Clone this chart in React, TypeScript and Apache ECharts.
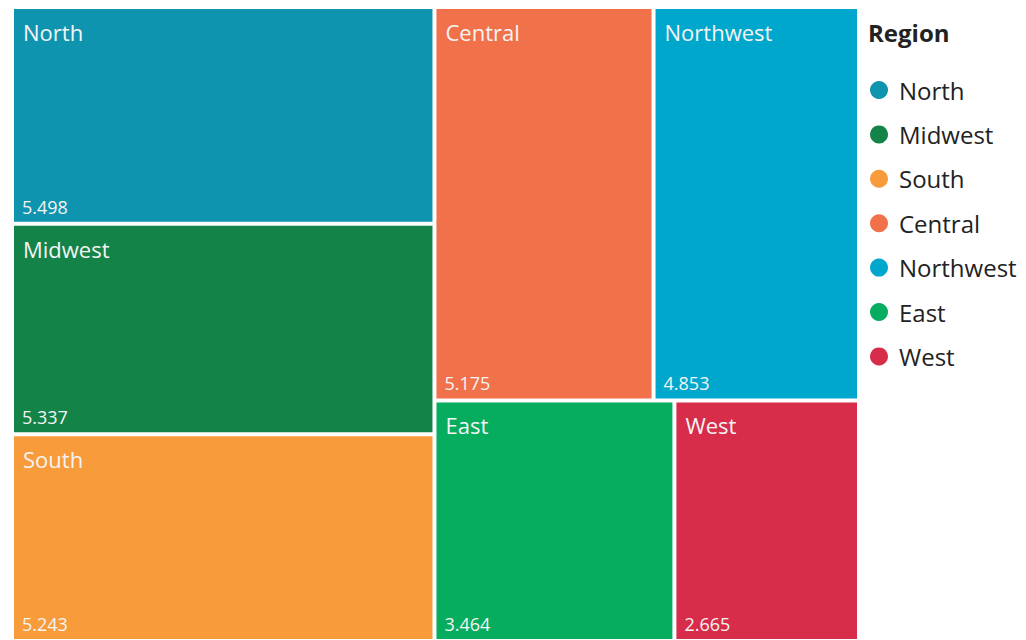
import React, { useEffect, useRef } from "react";
import * as echarts from "echarts";

const regions = ["North", "Midwest", "South", "Central", "Northwest", "East", "West"];
const values = [5.498, 5.337, 5.243, 5.175, 4.853, 3.464, 2.665];
const colors = ["#0F94AF", "#138347", "#F79B3B", "#F1714A", "#00A7CC", "#06AD5F", "#D72D4B"];
const legendTitle = "Region";

const FONT = "'Open Sans', 'Noto Sans', sans-serif";

export default function App() {
  const ref = useRef<HTMLDivElement>(null);
  useEffect(() => {
    if (!ref.current) return;
    const chart = echarts.init(ref.current, undefined, { renderer: "svg" });
    const box = { left: 13, top: 8, width: 845, height: 632 };
    const nameData = regions.map((r, i) => ({
      name: r,
      value: values[i],
      itemStyle: { color: colors[i] },
    }));
    const valueData = regions.map((r, i) => ({ name: r, value: values[i] }));
    chart.setOption({
      animation: false,
      title: {
        text: legendTitle,
        left: 863,
        top: 15,
        textStyle: { fontFamily: FONT, fontSize: 24, fontWeight: "bold", color: "#222" },
      },
      legend: {
        orient: "vertical",
        left: 865,
        top: 73,
        icon: "circle",
        itemWidth: 30,
        itemHeight: 18,
        itemGap: 20.4,
        data: regions,
        textStyle: { fontFamily: FONT, fontSize: 24, color: "#222" },
        selectedMode: false,
      },
      series: [
        {
          type: "treemap",
          ...box,
          roam: false,
          nodeClick: false,
          breadcrumb: { show: false },
          sort: "desc",
          levels: [{ itemStyle: { borderWidth: 0, gapWidth: 2 } }],
          itemStyle: { borderWidth: 1, borderColor: "rgba(255,255,255,0.45)" },
          label: {
            show: true,
            position: "insideTopLeft",
            distance: 4,
            offset: [0, 3],
            formatter: "{b}",
            color: "#F4F4F4",
            fontFamily: FONT,
            fontSize: 22,
          },
          emphasis: { disabled: true },
          data: nameData,
        },
        {
          type: "treemap",
          ...box,
          roam: false,
          nodeClick: false,
          silent: true,
          breadcrumb: { show: false },
          sort: "desc",
          levels: [{ itemStyle: { borderWidth: 0, gapWidth: 2, color: "rgba(0,0,0,0)" } }],
          itemStyle: { color: "rgba(0,0,0,0)", borderWidth: 0, borderColor: "rgba(0,0,0,0)" },
          label: {
            show: true,
            position: "insideBottomLeft",
            distance: 4,
            offset: [0, 2],
            formatter: (p: any) => p.value.toFixed(3),
            color: "#F4F4F4",
            fontFamily: FONT,
            fontSize: 18,
          },
          emphasis: { disabled: true },
          data: valueData,
        },
        {
          type: "pie",
          radius: [0, 0],
          center: [-100, -100],
          silent: true,
          label: { show: false },
          labelLine: { show: false },
          data: regions.map((r, i) => ({ name: r, value: values[i], itemStyle: { color: colors[i] } })),
        },
      ],
    });
    return () => chart.dispose();
  }, []);
  return (
    <div
      ref={ref}
      style={{ position: "fixed", left: 0, top: 0, width: 1026, height: 640, background: "#fff" }}
    />
  );
}
